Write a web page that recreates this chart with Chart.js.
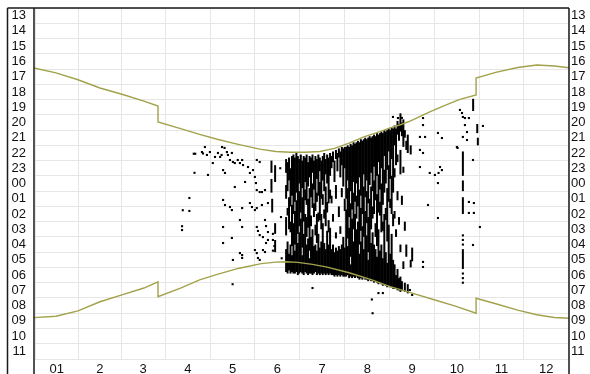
<!DOCTYPE html>
<html>
<head>
<meta charset="utf-8">
<script src="https://cdn.jsdelivr.net/npm/chart.js@4.4.0/dist/chart.umd.min.js"></script>
<style>
  html, body { margin: 0; padding: 0; background: #fff; }
  #wrap { position: relative; width: 590px; height: 374px; }
</style>
</head>
<body>
<div id="wrap"><canvas id="sleepChart" width="590" height="374"></canvas></div>
<script>
// month labels sit in the middle of each month, grid lines between them
const monthLabels = ['01', '2', '3', '4', '5', '6', '7', '8', '9', '10', '11', '12'];
const monthMid = [15.5, 45, 74.5, 105, 135.5, 166, 196.5, 227.5, 258, 288.5, 319, 349.5];
// hours from 13:00 to 11:00 next day (values > 24 are after midnight)
const hourTicks = [13, 14, 15, 16, 17, 18, 19, 20, 21, 22, 23, 24, 25, 26, 27, 28, 29, 30, 31, 32, 33, 34, 35];

// sunset / sunrise lines (day of year, hour)
const sunsetDay  = [0, 15, 30, 45, 60, 75, 84.6, 84.6, 100, 113, 125, 140, 154, 165, 175, 185, 195, 205, 215, 225, 236, 243, 250, 257, 270, 280, 290, 301.6, 301.6, 315, 330, 343, 355, 365];
const sunsetHour = [16.43, 16.75, 17.2, 17.74, 18.15, 18.6, 18.92, 19.97, 20.4, 20.78, 21.1, 21.45, 21.75, 21.9, 21.95, 21.95, 21.9, 21.7, 21.35, 20.95, 20.6, 20.36, 20.15, 19.9, 19.3, 18.9, 18.5, 18.2, 17.09, 16.72, 16.4, 16.24, 16.3, 16.42];
const sunriseDay  = [0, 15, 30, 45, 60, 75, 84.6, 84.6, 100, 113, 125, 140, 155, 165, 172, 180, 190, 200, 215, 230, 243, 258, 273, 288, 301.6, 301.6, 315, 330, 343, 355, 365];
const sunriseHour = [32.79, 32.7, 32.35, 31.75, 31.3, 30.85, 30.44, 31.42, 30.85, 30.32, 29.95, 29.55, 29.25, 29.15, 29.13, 29.17, 29.3, 29.48, 29.85, 30.3, 30.76, 31.18, 31.62, 32.05, 32.5, 31.52, 31.88, 32.3, 32.6, 32.78, 32.83];

// continuous runs of activity: [day, from hour, to hour]
const streaks = [
  [162, 22.5, 23.3], [162, 23.7, 24.6], [162.5, 25.0, 25.9], [164.5, 22.8, 23.9], [164.5, 26.6, 27.3], [164.5, 27.7, 28.5],
  [172, 22.4, 23.3], [172, 24.1, 25.0], [172, 26.2, 27.4], [172, 28.3, 29.8],
  [173, 22.6, 24.5], [173, 25.6, 26.1], [173, 27.8, 29.9],
  [174, 22.3, 23.8], [174, 24.9, 27.0], [174, 28.6, 29.7],
  [175, 23.0, 25.5], [175, 26.5, 27.2], [175, 28.0, 29.9],
  [176, 22.2, 24.8], [176, 25.4, 28.1], [176, 28.7, 29.8],
  [177, 22.1, 26.0], [177, 26.6, 29.9],
  [178, 22.3, 25.2], [178, 25.8, 28.0], [178, 28.4, 29.9],
  [179, 22.0, 24.6], [179, 25.1, 29.8],
  [180, 22.2, 27.3], [180, 27.9, 30.0],
  [181, 22.4, 24.0], [181, 24.5, 26.8], [181, 27.2, 29.9],
  [182, 22.1, 25.9], [182, 26.3, 29.8],
  [183, 22.5, 24.3], [183, 24.9, 28.2], [183, 28.7, 29.9],
  [184, 22.2, 26.5], [184, 27.3, 30.0],
  [185, 22.3, 23.9], [185, 24.4, 25.1], [185, 26.0, 29.8],
  [186, 22.1, 25.4], [186, 26.2, 27.5], [186, 28.0, 29.9],
  [187, 22.6, 24.2], [187, 25.0, 26.9], [187, 27.6, 30.0],
  [188, 22.2, 23.6], [188, 24.3, 28.4], [188, 28.9, 29.9],
  [189, 22.3, 24.9], [189, 26.1, 26.8], [189, 27.5, 29.9],
  [190, 22.1, 23.3], [190, 24.0, 25.6], [190, 27.0, 30.0],
  [191, 22.5, 24.4], [191, 25.3, 26.2], [191, 28.1, 29.9],
  [192, 22.2, 25.8], [192, 26.7, 27.4], [192, 28.0, 29.8],
  [193, 22.4, 23.7], [193, 24.6, 25.2], [193, 26.0, 27.9], [193, 28.4, 30.0],
  [194, 22.1, 24.8], [194, 25.9, 26.5], [194, 27.3, 29.9],
  [195, 22.3, 23.2], [195, 23.9, 26.4], [195, 28.2, 30.0],
  [196, 22.5, 25.0], [196, 26.0, 27.0], [196, 27.8, 29.9],
  [197, 22.2, 23.8], [197, 24.7, 25.4], [197, 26.6, 30.0],
  [198, 22.0, 24.5], [198, 25.7, 26.3], [198, 27.9, 29.9],
  [199, 22.4, 23.4], [199, 24.2, 26.8], [199, 28.3, 30.0],
  [200, 22.1, 24.0], [200, 25.2, 25.9], [200, 27.1, 29.9],
  [201, 22.3, 25.3], [201, 26.4, 27.2], [201, 28.0, 30.0],
  [202, 22.0, 23.5], [202, 24.4, 25.0], [202, 26.9, 29.9],
  [203, 22.2, 23.0], [203, 24.8, 25.3], [203, 28.3, 30.0],
  [204, 21.9, 22.6], [204, 26.0, 26.5], [204, 28.0, 30.0],
  [205, 22.5, 23.9], [205, 28.5, 30.1],
  [206, 21.8, 22.4], [206, 24.1, 25.0], [206, 27.2, 27.6], [206, 28.2, 30.0],
  [207, 22.0, 23.2], [207, 28.4, 30.1],
  [208, 21.7, 22.3], [208, 25.5, 26.2], [208, 28.1, 30.0],
  [209, 21.9, 23.6], [209, 26.8, 27.3], [209, 28.3, 30.1],
  [210, 21.6, 22.8], [210, 24.3, 24.9], [210, 28.0, 30.0],
  [211, 21.7, 24.2], [211, 27.5, 30.1],
  [212, 21.6, 23.0], [212, 25.0, 25.8], [212, 28.2, 30.1],
  [213, 21.6, 25.0], [213, 25.7, 30.1],
  [214, 21.5, 23.8], [214, 24.3, 27.6], [214, 28.1, 30.0],
  [215, 21.6, 26.2], [215, 26.9, 30.2],
  [216, 21.4, 24.5], [216, 25.3, 28.8], [216, 29.3, 30.1],
  [217, 21.5, 25.7], [217, 26.3, 30.2],
  [218, 21.3, 23.9], [218, 24.6, 27.0], [218, 27.8, 30.1],
  [219, 21.4, 25.2], [219, 26.0, 30.2],
  [220, 21.3, 24.0], [220, 24.8, 26.3], [220, 27.0, 30.1],
  [221, 21.2, 25.5], [221, 26.5, 30.2],
  [222, 21.3, 23.6], [222, 24.4, 28.0], [222, 28.6, 30.3],
  [223, 21.1, 24.8], [223, 25.6, 27.1], [223, 27.8, 30.2],
  [224, 21.2, 26.0], [224, 26.8, 30.3],
  [225, 21.1, 23.4], [225, 24.2, 27.5], [225, 28.3, 30.2],
  [226, 21.0, 24.9], [226, 25.8, 30.3],
  [227, 21.1, 23.8], [227, 24.5, 26.6], [227, 27.4, 30.3],
  [228, 21.0, 25.3], [228, 26.2, 28.5], [228, 29.0, 30.4],
  [229, 20.9, 24.1], [229, 25.0, 30.3],
  [230, 21.0, 23.3], [230, 24.2, 27.0], [230, 27.9, 30.4],
  [231, 20.9, 24.5], [231, 25.5, 26.3], [231, 27.2, 30.4],
  [232, 20.8, 22.9], [232, 23.8, 26.0], [232, 28.0, 30.5],
  [233, 20.9, 25.1], [233, 26.6, 27.5], [233, 28.3, 30.4],
  [234, 20.7, 23.5], [234, 24.7, 28.1], [234, 28.8, 30.5],
  [235, 20.8, 22.6], [235, 23.4, 25.9], [235, 27.0, 30.6],
  [236, 20.7, 24.4], [236, 25.2, 26.1], [236, 28.4, 30.5],
  [237, 20.6, 23.0], [237, 24.0, 27.2], [237, 28.0, 30.6],
  [238, 20.7, 25.4], [238, 26.5, 27.1], [238, 28.9, 30.7],
  [239, 20.5, 22.2], [239, 23.1, 24.6], [239, 26.0, 30.6],
  [240, 20.6, 24.0], [240, 25.6, 26.4], [240, 28.5, 30.7],
  [241, 20.5, 23.1], [241, 24.3, 27.8], [241, 29.2, 30.8],
  [242, 20.4, 21.9], [242, 22.8, 25.2], [242, 26.7, 30.7],
  [243, 20.5, 23.7], [243, 25.0, 25.6], [243, 28.6, 30.8],
  [244, 20.3, 22.4], [244, 23.5, 26.0], [244, 27.3, 30.8],
  [245, 20.4, 24.6], [245, 26.0, 26.8], [245, 29.0, 30.9],
  [246, 20.2, 21.5], [246, 23.0, 23.6], [246, 25.8, 26.3], [246, 29.3, 30.9],
  [247, 20.4, 22.8], [247, 27.0, 27.5], [247, 30.0, 30.9],
  [248, 19.9, 20.8], [248, 22.1, 22.6], [248, 24.5, 25.1], [248, 29.6, 31.0],
  [249, 20.1, 21.2], [249, 26.2, 26.7], [249, 30.2, 31.0],
  [250, 19.4, 20.6], [250, 21.8, 23.4], [250, 28.0, 28.5], [250, 30.1, 31.1],
  [251, 20.0, 20.9], [251, 24.8, 25.4], [251, 30.4, 31.0],
  [252, 19.8, 21.6], [252, 22.9, 23.3], [252, 29.1, 29.6],
  [253, 20.5, 21.0], [253, 26.5, 27.1], [253, 30.5, 31.1],
  [254, 21.2, 21.8], [254, 28.0, 28.8],
  [255, 20.8, 22.0], [255, 30.6, 31.2],
  [257, 21.5, 22.1], [257, 29.0, 29.5], [258, 28.2, 29.1],
  [292.6, 21.9, 23.5], [292.6, 23.8, 24.5], [292.6, 24.9, 26.0], [292.6, 28.3, 29.6],
  [299.6, 18.45, 19.25], [302.4, 20.1, 20.7], [302.8, 21.0, 21.5]
];

// single activity marks: [day, hour]
const dots = [
  [101, 26.8], [101, 27.05], [101.5, 25.75], [106, 25.8], [106, 24.95], [109, 22.05], [110, 22.05], [109.5, 23.3],
  [114.6, 21.94], [115.3, 22.03], [116.6, 21.61], [118, 22.13], [120, 21.94], [122, 22.66], [123.5, 22.26],
  [125.5, 22.0], [127, 22.26], [128, 22.13], [128.3, 21.61], [130, 21.67], [131.6, 21.94], [132.3, 22.13],
  [133.7, 22.46], [135, 22.0], [135.7, 22.59], [137, 22.66], [139, 22.46], [140.5, 22.66], [142, 22.46],
  [142.6, 22.79], [118.7, 23.44], [129, 23.12], [130.3, 23.31], [137, 24.23], [144, 23.9], [146, 22.92],
  [147.3, 23.31], [149.4, 23.12], [150.7, 23.57], [152, 22.46], [154, 22.59], [151.4, 23.97], [152, 24.43],
  [154, 24.56], [155.5, 24.56], [157.6, 24.43], [129, 25.08], [130.3, 25.41], [133.7, 25.54], [135, 25.74],
  [142, 25.61], [147.3, 25.28], [148.7, 25.54], [150.7, 25.74], [152, 25.61], [155.5, 25.41], [159.6, 25.28],
  [129, 26.85], [140.5, 26.39], [142, 26.85], [152, 26.85], [152.8, 27.11], [154, 27.38], [157.6, 26.39],
  [158.3, 26.79], [159.6, 27.18], [129, 27.9], [135, 27.57], [156.2, 27.51], [158.3, 27.9], [159.6, 27.7],
  [150.7, 28.36], [152, 28.56], [140.5, 28.56], [142, 28.69], [135.7, 29.01], [142, 28.88], [152.8, 28.88],
  [154, 29.01], [156.2, 28.36], [157.6, 28.49], [135.5, 30.6],
  [163, 27.3], [163, 27.7], [164, 28.1], [163, 28.4], [168, 23.0], [168.5, 26.2], [169, 28.9],
  [190, 30.85], [230.5, 31.6], [231, 32.5], [235, 31.18], [238, 31.18], [256.5, 30.98], [258, 31.3],
  [244.9, 19.64], [248.3, 19.71], [251, 19.7], [265.4, 19.71], [265.4, 20.17], [263.3, 20.95], [266.8, 20.95],
  [275.6, 20.69], [278.3, 21.02], [263.3, 21.8], [265.4, 22.0], [263.3, 22.92], [277, 22.92], [278.3, 23.12],
  [270, 23.31], [273.5, 23.44], [276, 23.31], [275.6, 23.97], [268.8, 25.41], [275.6, 26.26],
  [265.4, 29.14], [265.4, 29.47], [304.2, 26.85], [299.5, 28.03],
  [296.7, 25.21], [300.1, 25.28], [296.7, 25.93], [300.1, 25.93],
  [290.6, 19.18], [292, 19.38], [292.6, 19.64], [294, 19.71], [296.7, 19.71],
  [294, 20.17], [295.4, 20.63], [292.6, 20.95], [295.4, 21.15], [306.3, 20.23],
  [288.5, 21.61], [289, 21.67], [299.5, 22.46],
  [292.6, 27.4], [292.6, 27.7], [292.6, 28.0], [292.6, 29.9], [292.6, 30.2], [292.6, 30.5]
];

const lineColor = '#a2a24c';
const tickFont = { family: "'Liberation Sans', Arial, Helvetica, sans-serif", size: 13 };
const hourLabel = v => String(Math.round(v) % 24).padStart(2, '0');

// frame lines like the original: axis rules run down through the label rows
const framePlugin = {
  id: 'frame',
  afterDraw(chart) {
    const { ctx, chartArea } = chart;
    const h = chart.height;
    ctx.save();
    ctx.strokeStyle = '#1a1a1a';
    ctx.lineWidth = 1.5;
    ctx.beginPath();
    ctx.moveTo(7.5, chartArea.top); ctx.lineTo(chartArea.right, chartArea.top);
    ctx.moveTo(7.5, chartArea.top); ctx.lineTo(7.5, h);
    ctx.moveTo(chartArea.left, chartArea.top); ctx.lineTo(chartArea.left, h);
    ctx.moveTo(chartArea.right, chartArea.top); ctx.lineTo(chartArea.right, h);
    ctx.stroke();
    ctx.restore();
  }
};

new Chart(document.getElementById('sleepChart').getContext('2d'), {
  type: 'scatter',
  data: {
    datasets: [
      {
        type: 'line', label: 'sunset',
        data: sunsetDay.map((d, i) => ({ x: d, y: sunsetHour[i] })),
        borderColor: lineColor, borderWidth: 1.4, pointRadius: 0, tension: 0, fill: false
      },
      {
        type: 'line', label: 'sunrise',
        data: sunriseDay.map((d, i) => ({ x: d, y: sunriseHour[i] })),
        borderColor: lineColor, borderWidth: 1.4, pointRadius: 0, tension: 0, fill: false
      },
      {
        type: 'bar', label: 'runs',
        data: streaks.map(s => ({ x: s[0], y: [s[1], s[2]] })),
        backgroundColor: '#000', barThickness: 2, inflateAmount: 0, borderWidth: 0
      },
      {
        type: 'scatter', label: 'marks',
        data: dots.map(p => ({ x: p[0], y: p[1] })),
        pointStyle: 'rect', pointRadius: 1.5, backgroundColor: '#000', borderWidth: 0
      }
    ]
  },
  options: {
    responsive: false,
    animation: false,
    layout: { padding: { top: 8, left: 7, right: 0, bottom: 0 } },
    plugins: { legend: { display: false }, tooltip: { enabled: false } },
    scales: {
      x: {
        type: 'linear', position: 'bottom', min: 0, max: 365, offset: false,
        afterBuildTicks: s => { s.ticks = monthMid.map(v => ({ value: v })); },
        afterFit: s => { s.height = 15; s.paddingLeft = 0; s.paddingRight = 0; },
        grid: { offset: true, color: '#e6e6e6', drawTicks: false },
        border: { display: false },
        ticks: { autoSkip: false, maxRotation: 0, padding: 3, color: '#111', font: tickFont,
                 callback: (v, i) => monthLabels[i] }
      },
      y: {
        type: 'linear', position: 'left', min: 12.5, max: 35.5, reverse: true,
        afterBuildTicks: s => { s.ticks = hourTicks.map(v => ({ value: v })); },
        afterFit: s => { s.width = 27; s.paddingTop = 0; s.paddingBottom = 0; },
        grid: { offset: true, color: '#e6e6e6', drawTicks: false },
        border: { display: false },
        ticks: { autoSkip: false, padding: 8, color: '#111', font: tickFont, callback: hourLabel }
      },
      yRight: {
        type: 'linear', position: 'right', min: 12.5, max: 35.5, reverse: true,
        afterBuildTicks: s => { s.ticks = hourTicks.map(v => ({ value: v })); },
        afterFit: s => { s.width = 21; s.paddingTop = 0; s.paddingBottom = 0; },
        grid: { display: false, drawTicks: false },
        border: { display: false },
        ticks: { autoSkip: false, padding: 2, color: '#111', font: tickFont, callback: hourLabel }
      }
    }
  },
  plugins: [framePlugin]
});
</script>
</body>
</html>
